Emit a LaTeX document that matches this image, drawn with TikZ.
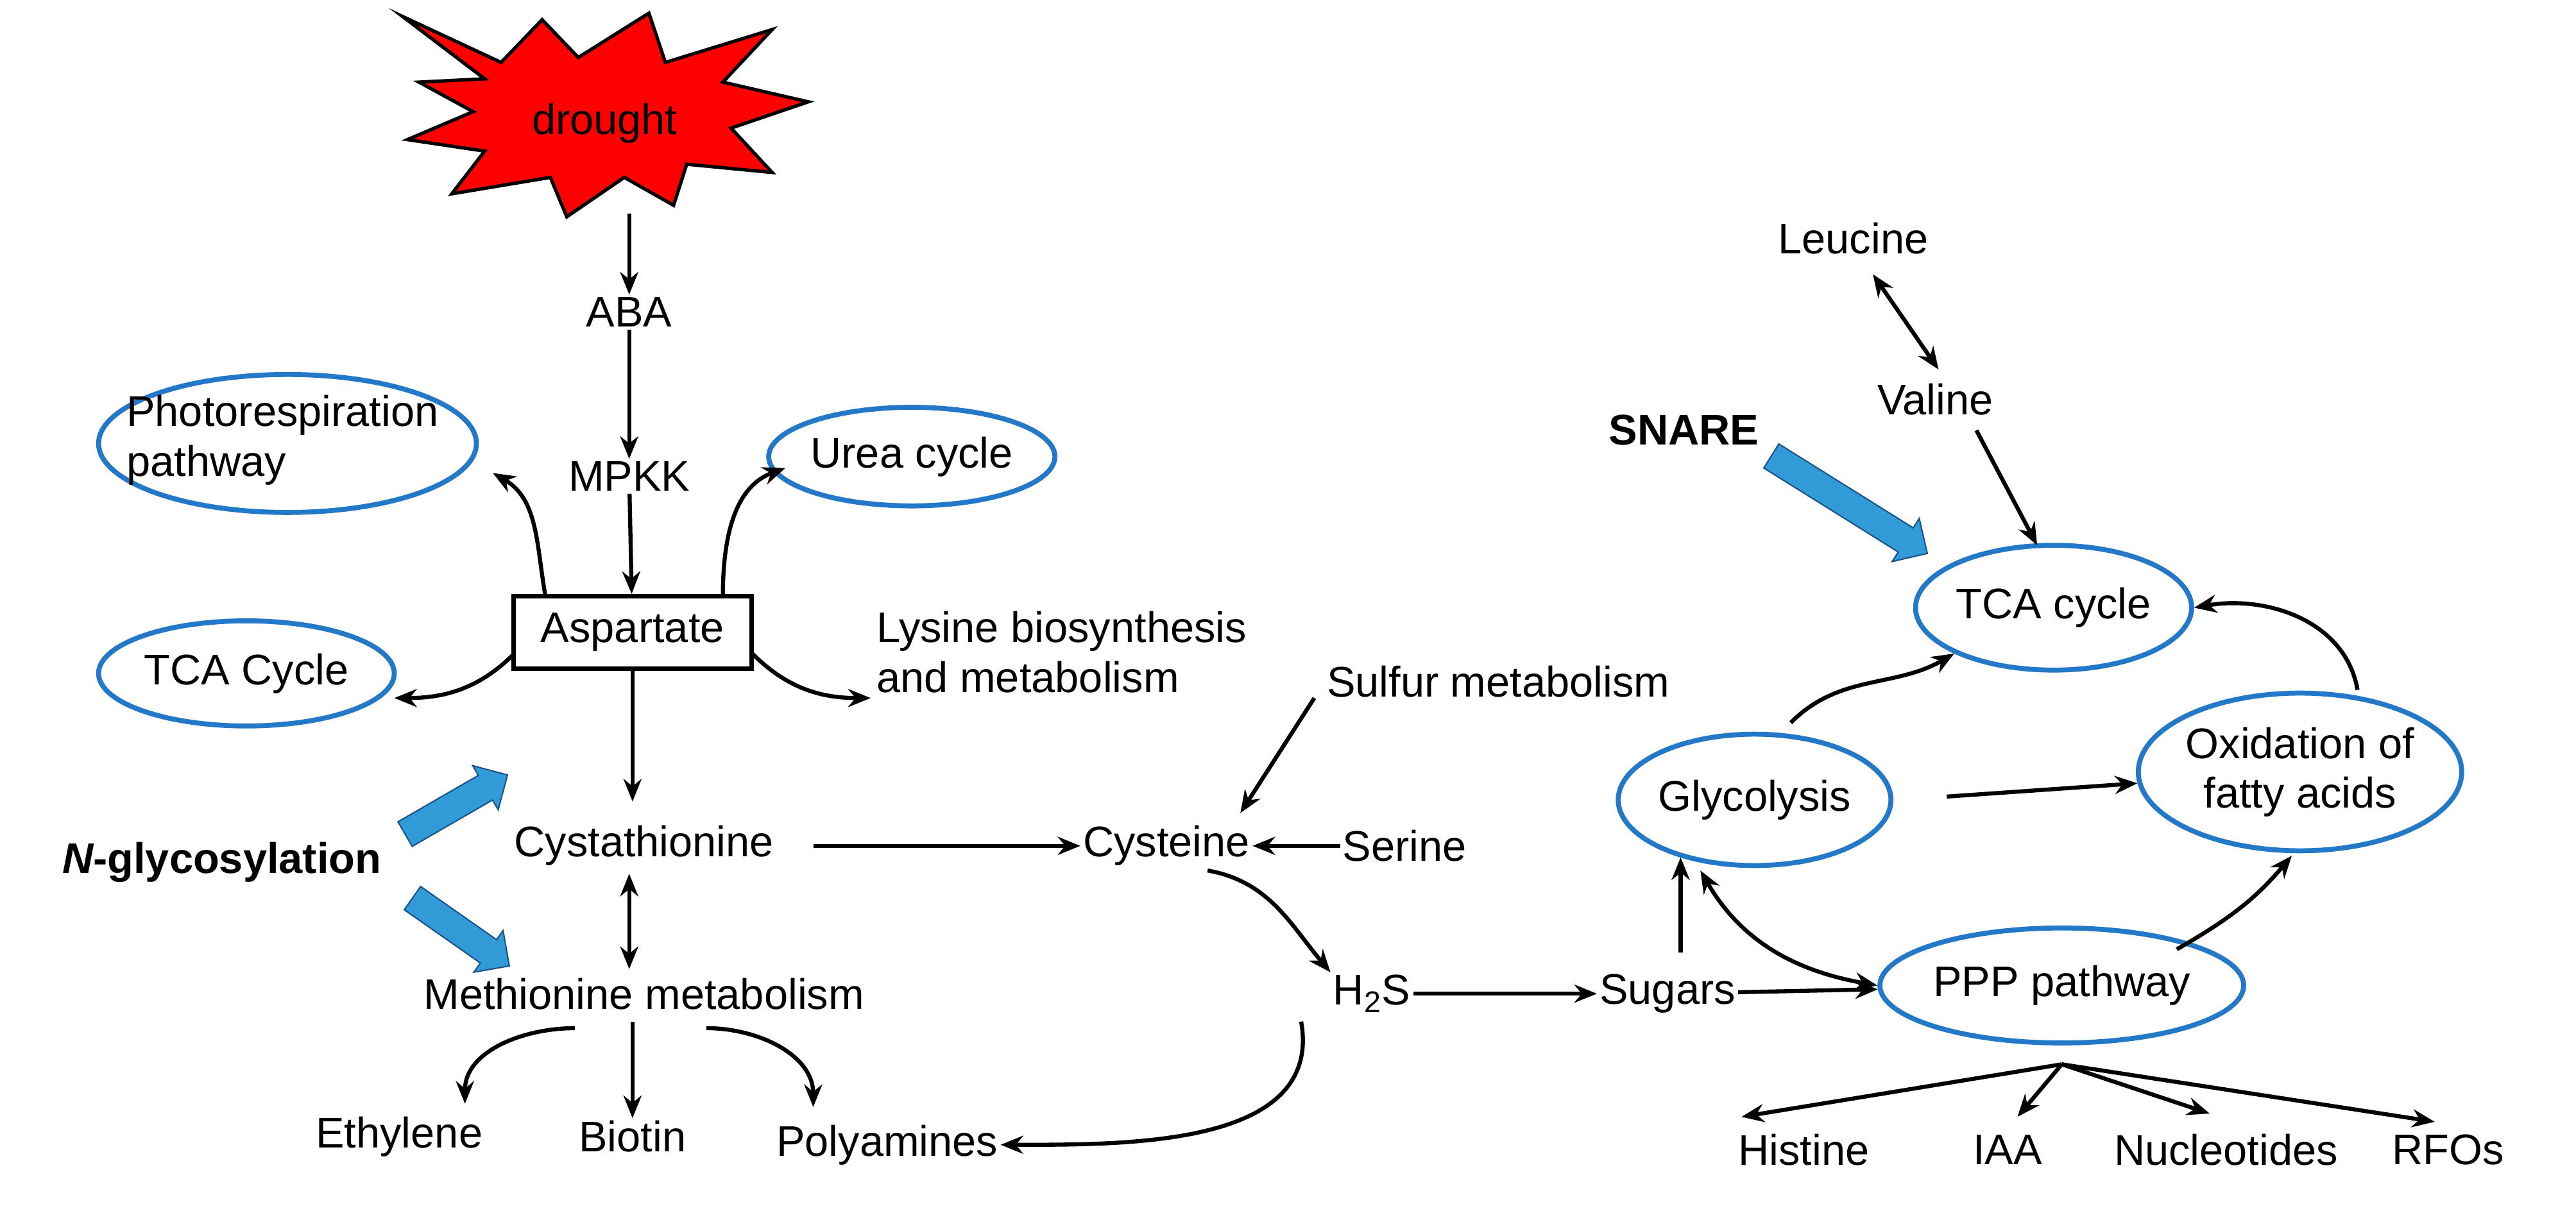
\documentclass[tikz,border=0pt]{standalone}
\usepackage{fontspec}
\setmainfont{Liberation Sans}
\usetikzlibrary{arrows.meta,shapes.arrows,shapes.geometric}
\definecolor{ebl}{RGB}{35,120,200}
\definecolor{abl}{RGB}{50,155,215}
\begin{document}
\begin{tikzpicture}[x=0.0256cm,y=-0.0256cm,
 every node/.style={font=\fontsize{19}{22}\selectfont},
 txt/.style={inner sep=1pt},
 ell/.style={ellipse,draw=ebl,line width=2.2pt,align=center,inner sep=0pt},
 ar/.style={-{Stealth[length=10pt,width=8pt]},line width=1.8pt},
 dar/.style={{Stealth[length=10pt,width=8pt]}-{Stealth[length=10pt,width=8pt]},line width=1.8pt},
 big/.style={single arrow,draw=ebl!70!black,fill=abl,line width=0.6pt,inner sep=6pt,single arrow head extend=5pt,single arrow head indent=0pt,single arrow tip angle=90}]
\useasboundingbox (0,0) rectangle (1568,737);
% drought star
\filldraw[fill=red,draw=black,line width=1.5pt]
 (245,10)--(305,38)--(330,12)--(352,35)--(395,8)--(405,38)--(470,18)--(440,50)--(492,62)--(445,78)--(470,105)--(418,100)--(410,125)--(380,108)--(345,132)--(335,108)--(275,118)--(295,92)--(248,85)--(288,68)--(255,50)--(295,48)--cycle;
\node[txt] (dr) at (368,75) {drought};
\coordinate (drb) at (383,130);
\node[txt] (aba) at (383,190) {ABA};
\node[txt] (mpkk) at (383,290) {MPKK};
\node[draw,line width=2pt,minimum width=145*0.0256cm,minimum height=44*0.0256cm] (asp) at (385,385) {Aspartate};
\node[ell,minimum width=230*0.0256cm,minimum height=84*0.0256cm] (photo) at (175,270) {};
\node[txt,align=left] at (172,268) {Photorespiration\\pathway};
\node[ell] (urea) at (555,278) [minimum width=150*0.0256cm,minimum height=60*0.0256cm] {Urea cycle};
\node[ell] (tca1) at (150,410) [minimum width=180*0.0256cm,minimum height=64*0.0256cm] {TCA Cycle};
\node[txt,align=left,anchor=west] (lys) at (532,397) {Lysine biosynthesis\\and metabolism};
\draw[ar] (drb) -- (aba);
\draw[ar] (aba) -- (mpkk);
\draw[ar] (mpkk) -- (asp);
\coordinate (p1) at (300,288); \coordinate (p2) at (478,285);
\coordinate (p3) at (240,425); \coordinate (p4) at (530,425);
\draw[ar] (332,363) to[out=100,in=-30] (p1);
\draw[ar] (440,363) to[out=90,in=200] (p2);
\draw[ar] (313,398) to[out=-135,in=0] (p3);
\draw[ar] (458,398) to[out=-45,in=180] (p4);
\node[txt] (cys) at (392,515) {Cystathionine};
\draw[ar] (asp) -- (385,488);
\node[txt] (ng) at (135,525) {\bfseries\itshape N\upshape-glycosylation};
\node[big,rotate=30,minimum height=72*0.0256cm] (b1) at (274,492) {};
\node[big,rotate=-35,minimum height=72*0.0256cm] (b2) at (277,565) {};
\node[txt] (met) at (392,605) {Methionine metabolism};
\draw[dar] (383,532) -- (383,590);
\node[txt] (eth) at (243,692) {Ethylene};
\node[txt] (bio) at (385,692) {Biotin};
\node[txt] (pol) at (540,697) {Polyamines};
\draw[ar] (350,626) to[out=180,in=90] (283,672);
\draw[ar] (385,622) -- (bio);
\draw[ar] (430,626) to[out=0,in=90] (495,674);
\node[txt] (cyst) at (710,515) {Cysteine};
\node[txt] (ser) at (855,515) {Serine};
\node[txt] (sul) at (912,415) {Sulfur metabolism};
\draw[ar] (495,515) -- (cyst);
\draw[ar] (ser) -- (cyst);
\draw[ar] (800,425) -- (755,495);
\node[txt] (h2s) at (835,605) {H\textsubscript{2}S};
\draw[ar] (735,530) to[out=-10,in=130] (h2s.north west);
\draw[ar] (792,622) to[out=-80,in=0] (pol.east);
\node[txt] (sug) at (1015,605) {Sugars};
\draw[ar] (h2s) -- (sug);
\node[ell] (ppp) at (1255,600) [minimum width=196*0.0256cm,minimum height=70*0.0256cm] {PPP pathway};
\node[ell] (gly) at (1068,487) [minimum width=144*0.0256cm,minimum height=80*0.0256cm] {Glycolysis};
\node[ell,align=center] (oxi) at (1400,470) [minimum width=176*0.0256cm,minimum height=96*0.0256cm] {Oxidation of\\fatty acids};
\node[ell] (tca2) at (1250,370) [minimum width=156*0.0256cm,minimum height=76*0.0256cm] {TCA cycle};
\draw[ar] (sug) -- (ppp);
\draw[ar] (1023,580) -- (1023,522);
\draw[dar] (1035,530) to[out=-60,in=170] (ppp.west);
\draw[ar] (1185,485) -- (oxi);
\draw[ar] (1325,578) to[out=30,in=-130] (1395,521);
\draw[ar] (1435,420) to[out=100,in=10] (tca2.east);
\draw[ar] (1090,440) to[out=45,in=-150] (tca2.south west);
\node[txt] (val) at (1178,243) {Valine};
\node[txt] (leu) at (1128,145) {Leucine};
\draw[dar] (1140,167) -- (1180,225);
\draw[ar] (1203,262) -- (1240,332);
\node[txt] (snare) at (1025,262) {\bfseries SNARE};
\node[big,rotate=-32,minimum height=112*0.0256cm] (b3) at (1122,305) {};
\node[txt] (his) at (1098,700) {Histine};
\node[txt] (iaa) at (1222,700) {IAA};
\node[txt] (nuc) at (1355,700) {Nucleotides};
\node[txt] (rfo) at (1490,700) {RFOs};
\coordinate (pb) at (1255,648);
\draw[ar] (pb) -- (1060,680);
\draw[ar] (pb) -- (1228,680);
\draw[ar] (pb) -- (1345,678);
\draw[ar] (pb) -- (1482,683);
\end{tikzpicture}
\end{document}
